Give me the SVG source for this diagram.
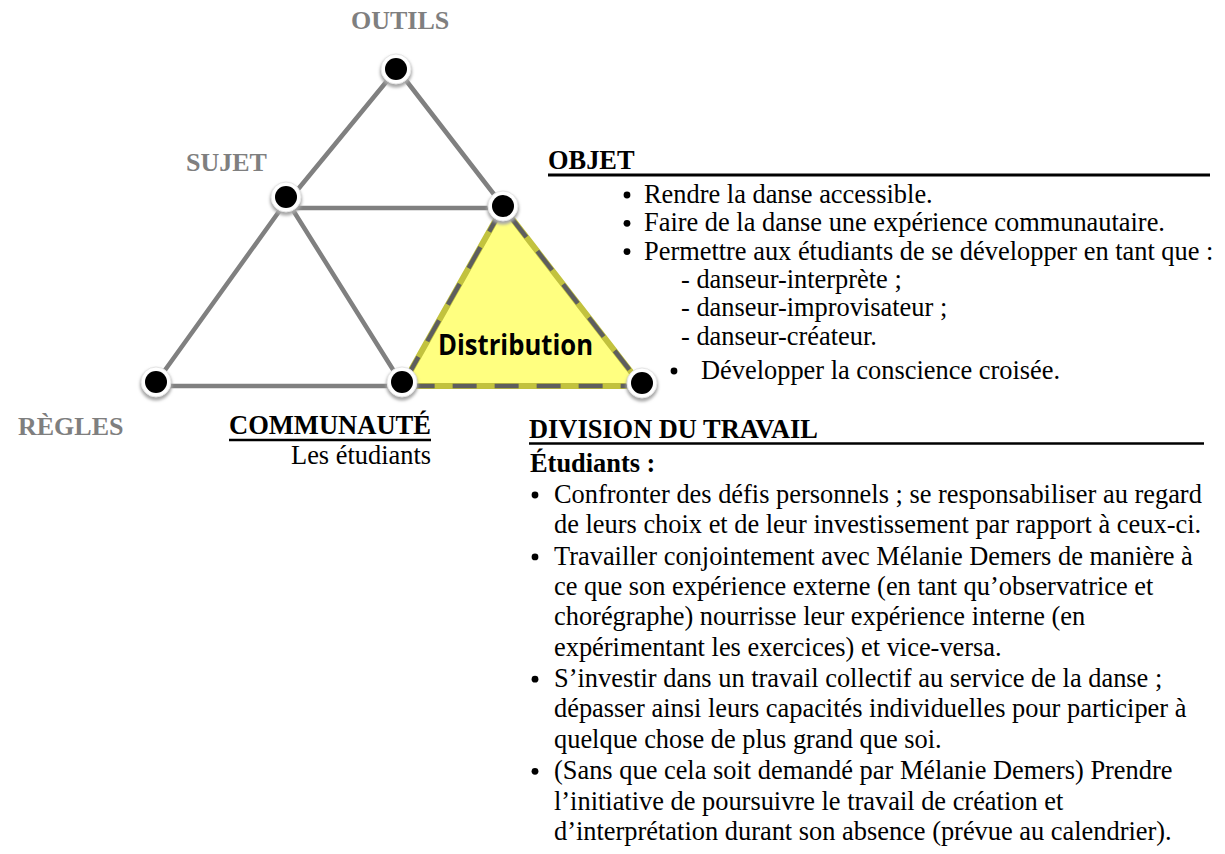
<svg xmlns="http://www.w3.org/2000/svg" width="1225" height="854" viewBox="0 0 1225 854">
<defs>
<filter id="sh" x="-50%" y="-50%" width="200%" height="200%">
<feGaussianBlur stdDeviation="1.5"/>
</filter>
<g id="dot">
<circle cx="0" cy="2.5" r="16" fill="#a8a8a8" filter="url(#sh)"/>
<circle r="15" fill="#ffffff" stroke="#e6e6e6" stroke-width="1"/>
<circle r="11" fill="#000"/>
</g>
</defs>
<style>
.lbl{font-family:"Liberation Serif",serif;font-weight:bold;font-size:26px;fill:#7f7f7f}
.hd{font-family:"Liberation Serif",serif;font-weight:bold;font-size:26.4px;fill:#000}
.t{font-family:"Liberation Serif",serif;font-size:26.4px;fill:#000}
.edge{stroke:#808080;stroke-width:4.5;fill:none;stroke-linecap:round}
</style>
<rect width="1225" height="854" fill="#fff"/>
<g id="connectors">
<line class="edge" x1="396" y1="70" x2="290" y2="199"/>
<line class="edge" x1="398" y1="70" x2="503" y2="206"/>
<line class="edge" x1="290" y1="208" x2="503" y2="208"/>
<line class="edge" x1="288" y1="199" x2="155" y2="384"/>
<line class="edge" x1="286" y1="199" x2="402" y2="384"/>
<line class="edge" x1="155" y1="386" x2="402" y2="386"/>
</g>
<g id="distribution">
<polygon points="503,207 642,386 402,386" fill="#ffff80" stroke="#c2c23e" stroke-width="6" stroke-linejoin="round"/>
<polygon points="503,207 642,386 402,386" fill="none" stroke="#5e5e5e" stroke-width="4.5" stroke-dasharray="24,18" stroke-dashoffset="-14"/>
<text x="438" y="355" textLength="155" lengthAdjust="spacingAndGlyphs" style="font-family:'Open Sans','Noto Sans',sans-serif;font-weight:bold;font-size:28px;fill:#000">Distribution</text>
</g>
<g id="node-outils"><use href="#dot" x="396" y="69"/><text class="lbl" x="351" y="29">OUTILS</text></g>
<g id="node-sujet"><use href="#dot" x="286" y="197"/><text class="lbl" x="186" y="171">SUJET</text></g>
<g id="node-regles"><use href="#dot" x="156" y="382"/><text class="lbl" x="18" y="435">RÈGLES</text></g>
<g id="node-communaute"><use href="#dot" x="402" y="382"/>
<text class="hd" x="229" y="434" textLength="202" lengthAdjust="spacingAndGlyphs">COMMUNAUTÉ</text>
<line x1="229" y1="440" x2="431" y2="440" stroke="#000" stroke-width="2.5"/>
<text class="t" x="431" y="464" text-anchor="end">Les étudiants</text>
</g>
<g id="node-objet"><use href="#dot" x="503" y="206"/>
<text class="hd" x="548" y="169">OBJET</text>
<line x1="548" y1="175" x2="1210" y2="175" stroke="#000" stroke-width="3"/>
<circle cx="627" cy="195" r="3.4"/><text class="t" x="644" y="203">Rendre la danse accessible.</text>
<circle cx="627" cy="223.3" r="3.4"/><text class="t" x="644" y="231.3">Faire de la danse une expérience communautaire.</text>
<circle cx="627" cy="251.6" r="3.4"/><text class="t" x="644" y="259.6">Permettre aux étudiants de se développer en tant que :</text>
<text class="t" x="681" y="287.9">- danseur-interprète ;</text>
<text class="t" x="681" y="316.2">- danseur-improvisateur ;</text>
<text class="t" x="681" y="344.5">- danseur-créateur.</text>
</g>
<g id="node-right"><use href="#dot" x="642" y="383"/>
<circle cx="674" cy="371" r="3.4"/><text class="t" x="701" y="379">Développer la conscience croisée.</text>
</g>
<g id="division">
<text class="hd" x="529" y="438">DIVISION DU TRAVAIL</text>
<line x1="529" y1="443.5" x2="1204" y2="443.5" stroke="#000" stroke-width="2.5"/>
<text class="hd" x="530" y="472">Étudiants :</text>
<circle cx="535" cy="495" r="3.4"/>
<text class="t" x="554" y="503">Confronter des défis personnels ; se responsabiliser au regard</text>
<text class="t" x="554" y="533.2">de leurs choix et de leur investissement par rapport à ceux-ci.</text>
<circle cx="535" cy="556.9" r="3.4"/>
<text class="t" x="554" y="564.9">Travailler conjointement avec Mélanie Demers de manière à</text>
<text class="t" x="554" y="595.1">ce que son expérience externe (en tant qu’observatrice et</text>
<text class="t" x="554" y="625.3">chorégraphe) nourrisse leur expérience interne (en</text>
<text class="t" x="554" y="655.5">expérimentant les exercices) et vice-versa.</text>
<circle cx="535" cy="679.2" r="3.4"/>
<text class="t" x="554" y="687.2">S’investir dans un travail collectif au service de la danse ;</text>
<text class="t" x="554" y="717.4">dépasser ainsi leurs capacités individuelles pour participer à</text>
<text class="t" x="554" y="747.6">quelque chose de plus grand que soi.</text>
<circle cx="535" cy="771.3" r="3.4"/>
<text class="t" x="554" y="779.3">(Sans que cela soit demandé par Mélanie Demers) Prendre</text>
<text class="t" x="554" y="809.5">l’initiative de poursuivre le travail de création et</text>
<text class="t" x="554" y="839.7">d’interprétation durant son absence (prévue au calendrier).</text>
</g>
</svg>
